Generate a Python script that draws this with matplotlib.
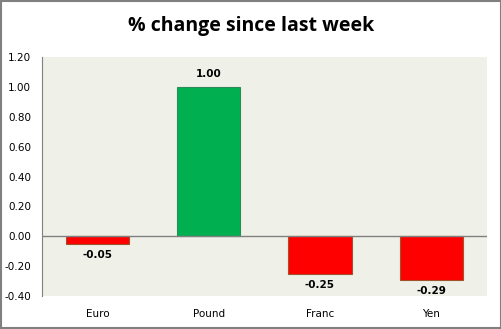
import numpy as np
import matplotlib
matplotlib.use("Agg")
import matplotlib.pyplot as plt
from matplotlib.patches import Rectangle

# data
currencies = ["Euro", "Pound", "Franc", "Yen"]
changes = [-0.05, 1.00, -0.25, -0.29]
yticks = [-0.40, -0.20, 0.00, 0.20, 0.40, 0.60, 0.80, 1.00, 1.20]

fig = plt.figure(figsize=(5.02, 3.29), dpi=100)
ax = fig.add_axes([0.0837, 0.1003, 0.886, 0.7264])
ax.set_facecolor("#eff1e8")

x = np.arange(len(currencies))
colors = ["#ff0000" if v < 0 else "#00b050" for v in changes]
edges = ["#a0522d" if v < 0 else "#2e8b57" for v in changes]
ax.bar(x, changes, width=0.57, color=colors, edgecolor=edges, linewidth=0.8, zorder=3)

for xi, v in zip(x, changes):
    if v >= 0:
        ax.text(xi, v + 0.05, "%.2f" % v, ha="center", va="bottom", fontsize=7.5, fontweight="bold")
    else:
        ax.text(xi, v - 0.04, "%.2f" % v, ha="center", va="top", fontsize=7.5, fontweight="bold")

ax.axhline(0, color="#808080", linewidth=1, zorder=4)
ax.set_xlim(-0.5, len(currencies) - 0.5)
ax.set_ylim(-0.4, 1.2)
ax.set_yticks(yticks)
ax.set_yticklabels(["%.2f" % t for t in yticks], fontsize=7.5)
ax.set_xticks(x)
ax.set_xticklabels(currencies, fontsize=7.5)
ax.tick_params(axis="both", length=0, pad=9)
ax.tick_params(axis="y", pad=8)
for s in ["top", "right", "bottom"]:
    ax.spines[s].set_visible(False)
ax.spines["left"].set_color("#808080")

fig.text(0.5, 0.92, "% change since last week", ha="center", va="center",
         fontsize=14, fontweight="bold", family="Open Sans")

# grey frame around the whole chart
fig.patches.append(Rectangle((0.002, 0.003), 0.996, 0.994, transform=fig.transFigure,
                             fill=False, edgecolor="#808080", linewidth=1.5))

fig.savefig("out.png", dpi=100)
